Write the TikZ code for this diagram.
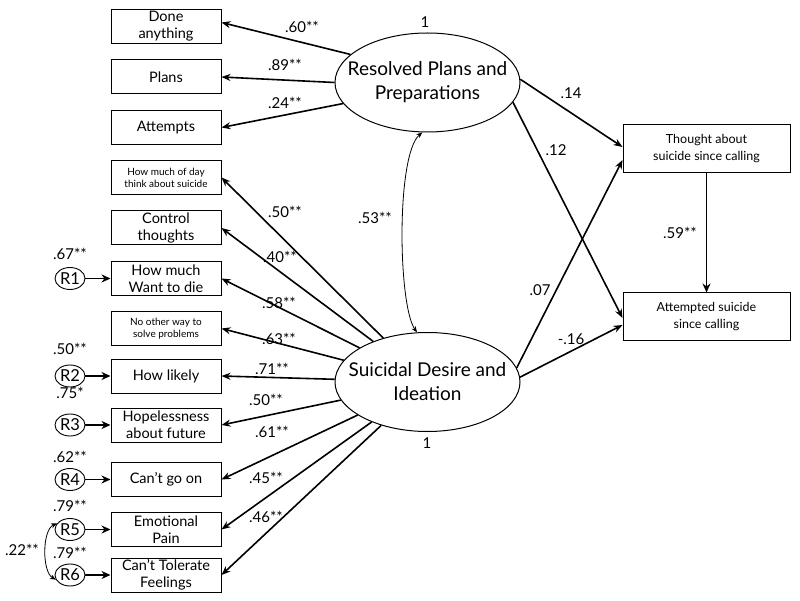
\documentclass[tikz,border=0pt]{standalone}
\usepackage{fontspec}
\setmainfont{Lato}
\usetikzlibrary{shapes.geometric,arrows.meta,calc}
\begin{document}
\begin{tikzpicture}[x=1pt,y=-1pt,
  box/.style={draw,line width=1pt,minimum width=110pt,minimum height=34pt,align=center,inner sep=1pt,font=\fontsize{14.5}{17}\selectfont},
  smallbox/.style={box,font=\fontsize{10}{12}\selectfont},
  outbox/.style={box,minimum width=167pt,minimum height=48pt,font=\fontsize{12.5}{17}\selectfont},
  latent/.style={draw,ellipse,line width=1pt,minimum width=185pt,minimum height=99pt,inner sep=0pt},
  ltext/.style={align=center,inner sep=0pt,font=\fontsize{19}{24}\selectfont},
  resid/.style={draw,ellipse,line width=0.9pt,minimum width=30pt,minimum height=22pt,inner sep=0pt,font=\fontsize{16.5}{18}\selectfont},
  arr/.style={line width=1.6pt,-{Stealth[length=9pt,width=7pt]}},
  rarr/.style={line width=1.4pt,-{Stealth[length=9pt,width=8pt]}},
  corr/.style={line width=0.8pt,{Stealth[length=6pt,width=5pt]}-{Stealth[length=6pt,width=5pt]}},
  lab/.style={font=\fontsize{15}{18}\selectfont,inner sep=0pt},
]
\useasboundingbox (0,0) rectangle (800,601);

% indicator boxes
\node[box] (b1) at (166,26.5) {Done\\anything};
\node[box] (b2) at (166,77) {Plans};
\node[box] (b3) at (166,127.5) {Attempts};
\node[smallbox] (b4) at (166,177.5) {How much of day\\think about suicide};
\node[box] (b5) at (166,228) {Control\\thoughts};
\node[box] (b6) at (166,278.5) {How much\\Want to die};
\node[smallbox] (b7) at (166,328.5) {No other way to\\solve problems};
\node[box] (b8) at (166,376) {How likely};
\node[box] (b9) at (166,425) {Hopelessness\\about future};
\node[box] (b10) at (166,479.5) {Can't go on};
\node[box] (b11) at (166,529.5) {Emotional\\Pain};
\node[box] (b12) at (166,575) {Can't Tolerate\\Feelings};

% latent variables
\node[latent] (Res) at (427.5,82.5) {};
\node[ltext] at (Res) {Resolved Plans and\\Preparations};
\node[latent] (Sui) at (427.5,382) {};
\node[ltext] at (Sui) {Suicidal Desire and\\Ideation};
\node[lab] (one1) at (425,22) {1};
\node[lab] (one2) at (427,443) {1};

% outcome boxes
\node[outbox] (T) at (706.5,149) {Thought about\\suicide since calling};
\node[outbox] (A) at (706.5,317) {Attempted suicide\\since calling};

% residuals
\node[resid] (r1) at (70,278.5) {R1};
\node[resid] (r2) at (70,376) {R2};
\node[resid] (r3) at (70,425) {R3};
\node[resid] (r4) at (70,479.5) {R4};
\node[resid] (r5) at (70,529.5) {R5};
\node[resid] (r6) at (70,575) {R6};
\node[lab] at (70,254) {.67**};
\node[lab] at (70,349) {.50**};
\node[lab] at (70,393) {.75*};
\node[lab] at (70,457) {.62**};
\node[lab] at (70,506) {.79**};
\node[lab] at (70,553) {.79**};
\node[lab] at (22,550) {.22**};

\draw[rarr] (r1) -- (b6.west);
\draw[rarr] (r2) -- (b8.west);
\draw[rarr] (r3) -- (b9.west);
\draw[rarr] (r4) -- (b10.west);
\draw[rarr] (r5) -- (b11.west);
\draw[rarr] (r6) -- (b12.west);
\draw[corr] (r5.155) .. controls (42,530) and (42,572) .. (r6.198);

% loadings of Resolved Plans
\draw[arr] (Res.160) -- ($(b1.east)+(0,-4)$);
\draw[arr] (Res.180) -- (b2.east);
\draw[arr] (Res.194) -- (b3.east);
\node[lab] at (302,27) {.60**};
\node[lab] at (285,65) {.89**};
\node[lab] at (285,103) {.24**};

% loadings of Suicidal Desire
\foreach \b in {b4,b5,b6,b7,b8,b9,b10,b11,b12}
  \draw[arr] (Sui) -- (\b.east);
\node[lab] at (285,212) {.50**};
\node[lab] at (280,257) {.40**};
\node[lab] at (279,303) {.58**};
\node[lab] at (279,339) {.63**};
\node[lab] at (272,369) {.71**};
\node[lab] at (266,400) {.50**};
\node[lab] at (272,432) {.61**};
\node[lab] at (266,478) {.45**};
\node[lab] at (266,517) {.46**};

% latent correlation
\draw[corr] (Res.264) .. controls (396,155) and (398,305) .. (Sui.102);
\node[lab] at (375,218) {.53**};

% structural paths
\draw[arr] (Res.2) -- ($(T.west)+(0,-2)$);
\draw[arr] (Res.-13) -- ($(A.west)+(0,1)$);
\draw[arr] (Sui.9) -- ($(T.west)+(0,11)$);
\draw[arr] (Sui.3) -- ($(A.west)+(0,8)$);
\draw[rarr] (T.south) -- (A.north);
\node[lab] at (571,93) {.14};
\node[lab] at (556,150) {.12};
\node[lab] at (540,290) {.07};
\node[lab] at (571,339) {-.16};
\node[lab] at (680,233) {.59**};
\end{tikzpicture}
\end{document}
